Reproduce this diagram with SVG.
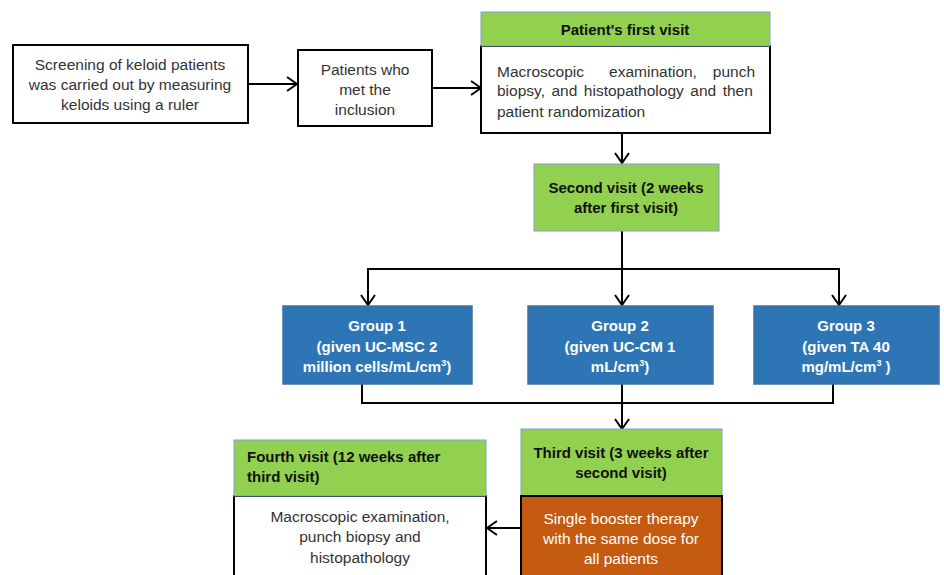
<svg xmlns="http://www.w3.org/2000/svg" width="944" height="575" viewBox="0 0 944 575">
<style>
text{font-family:"Liberation Sans",Arial,sans-serif;font-size:15.5px;fill:#333}
.b{font-weight:bold;fill:#111;font-size:15px}
.w{fill:#fff}
.c{text-anchor:middle}
.e{text-anchor:end}
.wbox{fill:#fff;stroke:#000;stroke-width:2}
.green{fill:#92d050;stroke:#7f9fcf;stroke-width:1}
.blue{fill:#2e75b6;stroke:#41719c;stroke-width:1.5}
.orange{fill:#c55a11;stroke:#000;stroke-width:2}
.ln{fill:none;stroke:#000;stroke-width:2}
.sup{font-size:9px}
</style>
<defs>
<marker id="ah" markerUnits="userSpaceOnUse" markerWidth="14" markerHeight="16" refX="11" refY="8" orient="auto">
<path d="M1,1 L11,8 L1,15" fill="none" stroke="#000" stroke-width="2"/>
</marker>
</defs>
<g id="connectors">
<line class="ln" x1="248" y1="84" x2="297" y2="84" marker-end="url(#ah)"/>
<line class="ln" x1="432" y1="88" x2="481" y2="88" marker-end="url(#ah)"/>
<line class="ln" x1="622" y1="133" x2="622" y2="163" marker-end="url(#ah)"/>
<line class="ln" x1="622" y1="231" x2="622" y2="305" marker-end="url(#ah)"/>
<polyline class="ln" points="368,269 839,269 839,305" marker-end="url(#ah)"/>
<line class="ln" x1="368" y1="268" x2="368" y2="305" marker-end="url(#ah)"/>
<polyline class="ln" points="362,384 362,403 833,403 833,384"/>
<line class="ln" x1="622" y1="384" x2="622" y2="429" marker-end="url(#ah)"/>
<line class="ln" x1="520" y1="528" x2="487" y2="528" marker-end="url(#ah)"/>
</g>
<g id="screening">
<rect class="wbox" x="13" y="45" width="235" height="78"/>
<text class="c" x="130" y="70">Screening of keloid patients</text>
<text class="c" x="130" y="90">was carried out by measuring</text>
<text class="c" x="130" y="110">keloids using a ruler</text>
</g>
<g id="inclusion">
<rect class="wbox" x="298" y="50" width="134" height="76"/>
<text class="c" x="365" y="75">Patients who</text>
<text class="c" x="365" y="95">met the</text>
<text class="c" x="365" y="115">inclusion</text>
</g>
<g id="first-visit">
<rect class="wbox" x="481" y="46" width="289" height="87"/>
<rect class="green" x="481" y="12" width="289" height="34"/>
<text class="b c" x="625" y="35">Patient's first visit</text>
<text x="497" y="77">Macroscopic</text>
<text class="c" x="653" y="77">examination,</text>
<text class="e" x="755" y="77">punch</text>
<text x="497" y="96" style="word-spacing:2.2px">biopsy, and histopathology and then</text>
<text x="497" y="117">patient randomization</text>
</g>
<g id="second-visit">
<rect class="green" x="534" y="164" width="185" height="67"/>
<text class="b c" x="626" y="193">Second visit (2 weeks</text>
<text class="b c" x="626" y="213">after first visit)</text>
</g>
<g id="group1">
<rect class="blue" x="283" y="306" width="189" height="78"/>
<text class="b w c" x="377" y="331">Group 1</text>
<text class="b w c" x="377" y="352">(given UC-MSC 2</text>
<text class="b w c" x="377" y="372">million cells/mL/cm<tspan class="sup" dy="-6">3</tspan><tspan dy="6">)</tspan></text>
</g>
<g id="group2">
<rect class="blue" x="528" y="306" width="185" height="78"/>
<text class="b w c" x="620" y="331">Group 2</text>
<text class="b w c" x="620" y="352">(given UC-CM 1</text>
<text class="b w c" x="620" y="372">mL/cm<tspan class="sup" dy="-6">3</tspan><tspan dy="6">)</tspan></text>
</g>
<g id="group3">
<rect class="blue" x="754" y="306" width="185" height="78"/>
<text class="b w c" x="846" y="331">Group 3</text>
<text class="b w c" x="846" y="352">(given TA 40</text>
<text class="b w c" x="846" y="372">mg/mL/cm<tspan class="sup" dy="-6">3</tspan><tspan dy="6"> )</tspan></text>
</g>
<g id="third-visit">
<rect class="green" x="521" y="429" width="201" height="67"/>
<rect class="orange" x="521" y="496" width="201" height="82"/>
<text class="b c" x="621" y="458">Third visit (3 weeks after</text>
<text class="b c" x="621" y="478">second visit)</text>
<text class="w c" x="621" y="524">Single booster therapy</text>
<text class="w c" x="621" y="544">with the same dose for</text>
<text class="w c" x="621" y="564">all patients</text>
</g>
<g id="fourth-visit">
<rect class="wbox" x="234" y="496" width="252" height="82"/>
<rect class="green" x="234" y="440" width="252" height="56"/>
<text class="b" x="247" y="462">Fourth visit (12 weeks after</text>
<text class="b" x="247" y="482">third visit)</text>
<text class="c" x="360" y="522">Macroscopic examination,</text>
<text class="c" x="360" y="542">punch biopsy and</text>
<text class="c" x="360" y="563">histopathology</text>
</g>
</svg>
